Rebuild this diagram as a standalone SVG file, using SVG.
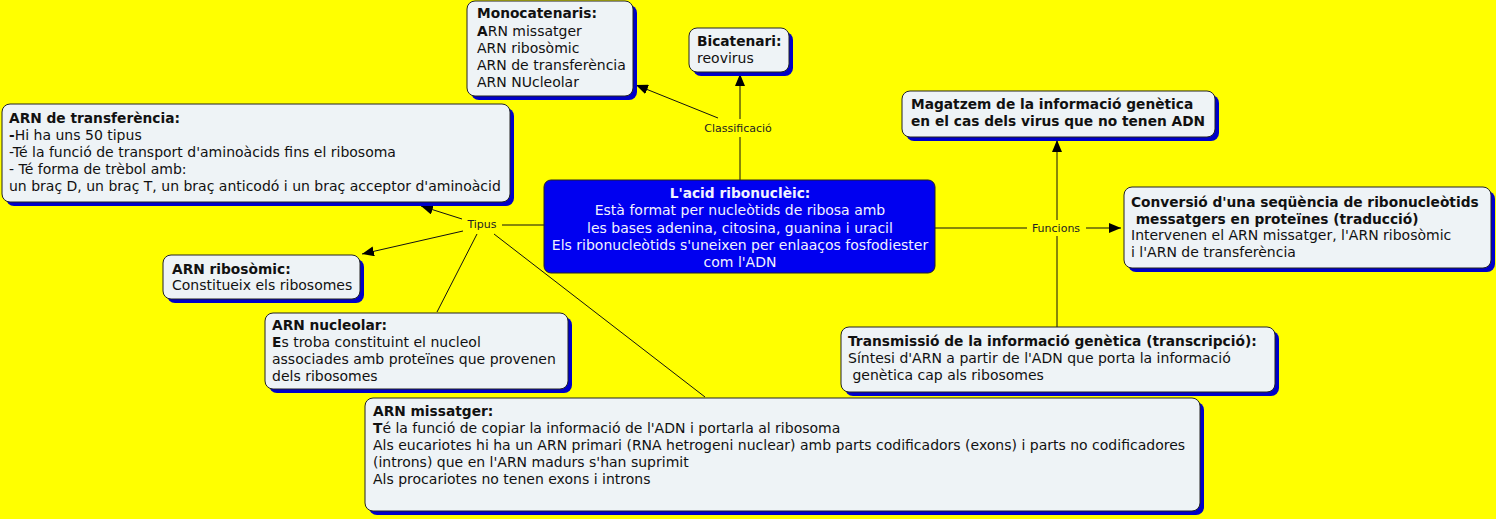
<svg xmlns="http://www.w3.org/2000/svg" width="1496" height="519" viewBox="0 0 1496 519">
<style>
.sh{fill:#0000C8}
.box{fill:#EEF3F6;stroke:#222;stroke-width:1}
.cbox{fill:#0000F0;stroke:#222;stroke-width:1}
.t{font-family:"DejaVu Sans",Verdana,sans-serif;font-size:14px;fill:#111}
.w{fill:#F2F2FF}
.b{font-weight:bold;font-size:13.75px}
.lbl{font-family:"DejaVu Sans",Verdana,sans-serif;font-size:11px;fill:#222;text-anchor:middle}
.ln{stroke:#111;stroke-width:1;fill:none}
.ar{marker-end:url(#ah)}
</style>
<defs>
<marker id="ah" markerUnits="userSpaceOnUse" markerWidth="13" markerHeight="10" refX="12" refY="5" orient="auto">
<path d="M0,0 L12,5 L0,10 z" fill="#000"/>
</marker>
</defs>
<rect x="0" y="0" width="1496" height="519" fill="#FFFF00"/>

<g id="connectors">
<line class="ln" x1="740" y1="180" x2="740" y2="137"/>
<line class="ln ar" x1="740" y1="119" x2="740" y2="74"/>
<line class="ln ar" x1="718" y1="118" x2="636" y2="85"/>
<text class="lbl" x="738" y="132">Classificació</text>

<line class="ln" x1="545" y1="225" x2="502" y2="225"/>
<line class="ln ar" x1="462" y1="219" x2="421" y2="206"/>
<line class="ln ar" x1="463" y1="231" x2="362" y2="254"/>
<line class="ln" x1="477" y1="234" x2="437" y2="312"/>
<line class="ln" x1="494" y1="234" x2="705" y2="397"/>
<text class="lbl" x="482" y="228">Tipus</text>

<line class="ln" x1="935" y1="228" x2="1027" y2="228"/>
<line class="ln ar" x1="1086" y1="228" x2="1121" y2="228"/>
<line class="ln ar" x1="1057" y1="220" x2="1057" y2="140"/>
<line class="ln" x1="1057" y1="236" x2="1057" y2="327"/>
<text class="lbl" x="1056" y="232">Funcions</text>
</g>

<g id="monocatenaris">
<rect class="sh" x="471" y="5" width="166" height="95" rx="8"/>
<rect class="box" x="467" y="1" width="166" height="95" rx="8"/>
<text class="t"><tspan class="b" x="477" y="18">Monocatenaris:</tspan><tspan x="477" y="36"><tspan class="b">A</tspan>RN missatger</tspan><tspan x="477" y="53">ARN ribosòmic</tspan><tspan x="477" y="70">ARN de transferència</tspan><tspan x="477" y="87">ARN NUcleolar</tspan></text>
</g>

<g id="bicatenari">
<rect class="sh" x="693" y="32" width="100" height="44" rx="8"/>
<rect class="box" x="689" y="28" width="100" height="44" rx="8"/>
<text class="t"><tspan class="b" x="697" y="46">Bicatenari:</tspan><tspan x="697" y="63">reovirus</tspan></text>
</g>

<g id="arn-transferencia">
<rect class="sh" x="6" y="108" width="508" height="98" rx="8"/>
<rect class="box" x="2" y="104" width="508" height="98" rx="8"/>
<text class="t"><tspan class="b" x="9" y="123">ARN de transferència:</tspan><tspan x="9" y="140"><tspan class="b">-</tspan>Hi ha uns 50 tipus</tspan><tspan x="9" y="157">-Té la funció de transport d'aminoàcids fins el ribosoma</tspan><tspan x="9" y="174">- Té forma de trèbol amb:</tspan><tspan x="9" y="191">un braç D, un braç T, un braç anticodó i un braç acceptor d'aminoàcid</tspan></text>
</g>

<g id="acid-ribonucleic">
<rect class="cbox" x="544" y="180" width="391" height="93" rx="7"/>
<text class="t w" text-anchor="middle"><tspan class="b" x="740" y="198">L'acid ribonuclèic:</tspan><tspan x="740" y="215">Està format per nucleòtids de ribosa amb</tspan><tspan x="740" y="233">les bases adenina, citosina, guanina i uracil</tspan><tspan x="740" y="250">Els ribonucleòtids s'uneixen per enlaaços fosfodiester</tspan><tspan x="740" y="267">com l'ADN</tspan></text>
</g>

<g id="arn-ribosomic">
<rect class="sh" x="167" y="259" width="197" height="44" rx="8"/>
<rect class="box" x="163" y="255" width="197" height="44" rx="8"/>
<text class="t"><tspan class="b" x="172" y="274">ARN ribosòmic:</tspan><tspan x="172" y="290">Constitueix els ribosomes</tspan></text>
</g>

<g id="arn-nucleolar">
<rect class="sh" x="269" y="317" width="303" height="76" rx="8"/>
<rect class="box" x="265" y="313" width="303" height="76" rx="8"/>
<text class="t"><tspan class="b" x="272" y="330">ARN nucleolar:</tspan><tspan x="272" y="347"><tspan class="b">E</tspan>s troba constituint el nucleol</tspan><tspan x="272" y="364">associades amb proteïnes que provenen</tspan><tspan x="272" y="381">dels ribosomes</tspan></text>
</g>

<g id="arn-missatger">
<rect class="sh" x="369" y="402" width="835" height="113" rx="8"/>
<rect class="box" x="365" y="398" width="835" height="113" rx="8"/>
<text class="t"><tspan class="b" x="373" y="416">ARN missatger:</tspan><tspan x="373" y="433"><tspan class="b">T</tspan>é la funció de copiar la informació de l'ADN i portarla al ribosoma</tspan><tspan x="373" y="450">Als eucariotes hi ha un ARN primari (RNA hetrogeni nuclear) amb parts codificadors (exons) i parts no codificadores</tspan><tspan x="373" y="467">(introns) que en l'ARN madurs s'han suprimit</tspan><tspan x="373" y="484">Als procariotes no tenen exons i introns</tspan></text>
</g>

<g id="magatzem">
<rect class="sh" x="906" y="95" width="313" height="46" rx="8"/>
<rect class="box" x="902" y="91" width="313" height="46" rx="8"/>
<text class="t b"><tspan x="911" y="109">Magatzem de la informació genètica</tspan><tspan x="911" y="126">en el cas dels virus que no tenen ADN</tspan></text>
</g>

<g id="conversio">
<rect class="sh" x="1128" y="191" width="367" height="81" rx="8"/>
<rect class="box" x="1124" y="187" width="367" height="81" rx="8"/>
<text class="t"><tspan class="b" x="1131" y="207">Conversió d'una seqüència de ribonucleòtids</tspan><tspan class="b" x="1131" y="224" xml:space="preserve"> messatgers en proteïnes (traducció)</tspan><tspan x="1131" y="240">Intervenen el ARN missatger, l'ARN ribosòmic</tspan><tspan x="1131" y="257">i l'ARN de transferència</tspan></text>
</g>

<g id="transmissio">
<rect class="sh" x="845" y="331" width="434" height="65" rx="8"/>
<rect class="box" x="841" y="327" width="434" height="65" rx="8"/>
<text class="t"><tspan class="b" x="848" y="346">Transmissió de la informació genètica (transcripció):</tspan><tspan x="848" y="363">Síntesi d'ARN a partir de l'ADN que porta la informació</tspan><tspan x="848" y="380" xml:space="preserve"> genètica cap als ribosomes</tspan></text>
</g>
</svg>
